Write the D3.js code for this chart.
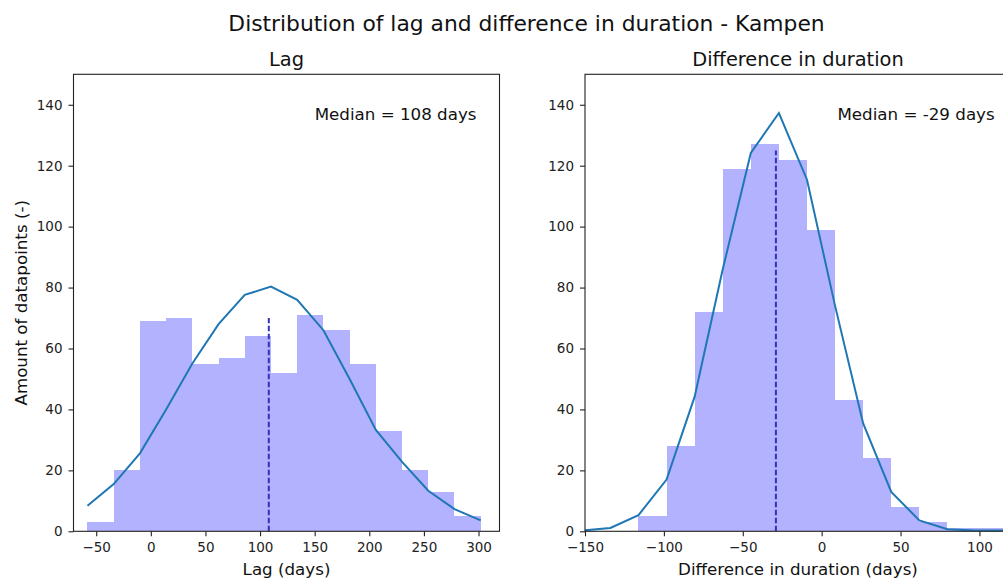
<!DOCTYPE html>
<html>
<head>
<meta charset="utf-8">
<style>
body { margin: 0; background: #fff; }
svg { display: block; font-family: "DejaVu Sans", sans-serif; }
.axis text { font-size: 13.5px; fill: #222; font-family: "DejaVu Sans", sans-serif; }
.axis line { stroke: #222; stroke-width: 1.1; }
.axis path { display: none; }
.bar { fill: blue; fill-opacity: 0.3; shape-rendering: crispEdges; }
.curve { fill: none; stroke: #1f77b4; stroke-width: 2; }
.median { stroke: #3232b8; stroke-width: 2; stroke-dasharray: 5.5 2.5; }
.frame { fill: none; stroke: #222; stroke-width: 1.1; }
</style>
</head>
<body>

<svg id="chart" width="1003" height="578"></svg>

<script src="https://d3js.org/d3.v7.min.js"></script>
<script>

// Lag histogram (days)
var lagEdges = [-58, -34, -10, 14, 38, 62, 86, 110, 134, 158, 182, 206, 230, 254, 278, 302];
var lagCounts = [3, 20, 69, 70, 55, 57, 64, 52, 71, 66, 55, 33, 20, 13, 5];
var lagCurve = [8.4, 15.5, 25.6, 40, 55.1, 68, 77.6, 80.3, 76, 66, 50, 33.3, 22.8, 13.3, 7.3, 3.6];
var lagMedian = 108;
var lagMedianTop = 70;

// Difference in duration histogram (days)
var diffEdges = [-151.7, -133.9, -116.1, -98.3, -80.5, -62.7, -44.9, -27.1, -9.3, 8.5, 26.3, 44.1, 61.9, 79.7, 97.5, 115.3, 133.1];
var diffCounts = [0, 0, 5, 28, 72, 119, 127, 122, 99, 43, 24, 8, 3, 1, 1, 1];
var diffCurve = [0.3, 1.1, 5.3, 17, 44.2, 86, 124.2, 137.3, 115.4, 74, 35.4, 12.9, 3.6, 0.7, 0.3, 0.3, 0.3];
var diffMedian = -29;
var diffMedianTop = 125;

var yTicks = [0, 20, 40, 60, 80, 100, 120, 140];

var svg = d3.select("#chart");
svg.append("rect").attr("width", 1003).attr("height", 578).attr("fill", "#fff");

var plotTop = 74.3, plotH = 457, plotW = 426;

var y = d3.scaleLinear().domain([0, 150]).range([plotH, 0]);

svg.append("text")
    .attr("x", 526.5)
    .attr("y", 30.5)
    .attr("text-anchor", "middle")
    .style("font-size", "21.8px")
    .attr("fill", "#111")
    .text("Distribution of lag and difference in duration - Kampen");

function drawPanel(p) {
    var g = svg.append("g")
        .attr("transform", "translate(" + p.left + "," + plotTop + ")");

    var x = d3.scaleLinear().domain(p.domain).range([0, plotW]);

    svg.append("clipPath").attr("id", p.id)
        .append("rect").attr("width", plotW).attr("height", plotH);

    var plot = g.append("g").attr("clip-path", "url(#" + p.id + ")");

    plot.selectAll(".bar")
        .data(p.counts)
        .enter()
        .append("rect")
        .attr("class", "bar")
        .attr("x", function(d, i) { return x(p.edges[i]); })
        .attr("width", function(d, i) { return x(p.edges[i + 1]) - x(p.edges[i]); })
        .attr("y", function(d) { return y(d); })
        .attr("height", function(d) { return plotH - y(d); });

    var line = d3.line()
        .x(function(d, i) { return x(p.edges[i]); })
        .y(function(d) { return y(d); });

    plot.append("path")
        .datum(p.curve)
        .attr("class", "curve")
        .attr("d", line);

    plot.append("line")
        .attr("class", "median")
        .attr("x1", x(p.median)).attr("x2", x(p.median))
        .attr("y1", y(0)).attr("y2", y(p.medianTop));

    g.append("g")
        .attr("class", "axis")
        .attr("transform", "translate(0," + plotH + ")")
        .call(d3.axisBottom(x).tickValues(p.xTicks).tickSize(5).tickPadding(6));

    g.append("g")
        .attr("class", "axis")
        .call(d3.axisLeft(y).tickValues(yTicks).tickSize(5).tickPadding(6));

    g.append("rect")
        .attr("class", "frame")
        .attr("width", plotW)
        .attr("height", plotH);

    g.append("text")
        .attr("x", plotW / 2)
        .attr("y", -8.8)
        .attr("text-anchor", "middle")
        .style("font-size", "19.4px")
        .attr("fill", "#111")
        .text(p.title);

    g.append("text")
        .attr("x", plotW / 2)
        .attr("y", plotH + 43.7)
        .attr("text-anchor", "middle")
        .style("font-size", "16.7px")
        .attr("fill", "#111")
        .text(p.xLabel);

    g.append("text")
        .attr("x", x(p.noteX))
        .attr("y", y(135))
        .style("font-size", "16.7px")
        .attr("fill", "#111")
        .text("Median = " + p.median + " days");

    return g;
}

var lagPanel = drawPanel({
    id: "clipLag", left: 73.5, domain: [-70.8, 319.2],
    edges: lagEdges, counts: lagCounts, curve: lagCurve,
    median: lagMedian, medianTop: lagMedianTop,
    xTicks: [-50, 0, 50, 100, 150, 200, 250, 300],
    title: "Lag", xLabel: "Lag (days)", noteX: 150
});

lagPanel.append("text")
    .attr("transform", "translate(-46.5," + (plotH / 2) + ") rotate(-90)")
    .attr("text-anchor", "middle")
    .style("font-size", "16.7px")
    .attr("fill", "#111")
    .text("Amount of datapoints (-)");

drawPanel({
    id: "clipDiff", left: 585, domain: [-150, 120],
    edges: diffEdges, counts: diffCounts, curve: diffCurve,
    median: diffMedian, medianTop: diffMedianTop,
    xTicks: [-150, -100, -50, 0, 50, 100],
    title: "Difference in duration", xLabel: "Difference in duration (days)", noteX: 10
});

</script>
</body>
</html>
